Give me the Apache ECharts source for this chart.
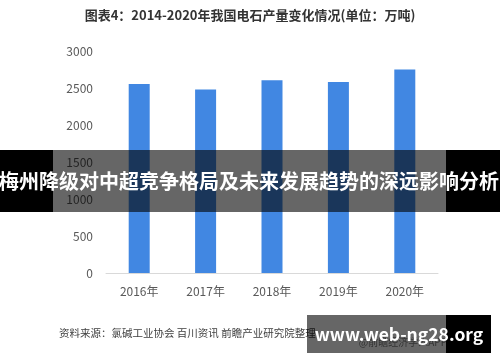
<!DOCTYPE html>
<html>
<head>
<meta charset="utf-8">
<script src="https://cdn.jsdelivr.net/npm/echarts@6/dist/echarts.min.js"></script>
<style>
html,body{margin:0;padding:0;background:#fff;}
#c{width:500px;height:362px;}
</style>
</head>
<body>
<div id="c"></div>
<script>
const categories = ['2016年', '2017年', '2018年', '2019年', '2020年'];
const production = [2555, 2480, 2605, 2580, 2750];
const yTicks = [0, 500, 1000, 1500, 2000, 2500, 3000];

const FONT = '"Noto Sans CJK SC", "Noto Sans", sans-serif';
const chart = echarts.init(document.getElementById('c'), null, {renderer: 'canvas'});
chart.setOption({
  animation: false,
  backgroundColor: '#ffffff',
  grid: {left: 106, right: 62, top: 51, bottom: 89, containLabel: false},
  xAxis: {
    type: 'category',
    data: categories,
    axisLine: {lineStyle: {color: '#d9d9d9', width: 1}},
    axisTick: {show: false},
    axisLabel: {color: '#595959', fontSize: 12, fontFamily: FONT, margin: 12}
  },
  yAxis: {
    type: 'value',
    min: yTicks[0],
    max: yTicks[yTicks.length - 1],
    interval: yTicks[1] - yTicks[0],
    axisLine: {show: false},
    axisTick: {show: false},
    splitLine: {show: false},
    axisLabel: {color: '#595959', fontSize: 12, fontFamily: FONT, margin: 13,
      formatter: function (v) { return String(v); }}
  },
  series: [{
    type: 'bar',
    data: production,
    barWidth: 21,
    itemStyle: {color: '#4187e2'},
    z: 2
  }],
  graphic: [
    {type: 'text', left: 'center', top: 9, z: 10,
      style: {text: '图表4：2014-2020年我国电石产量变化情况(单位：万吨)', fill: '#333333',
        font: 'bold 13px ' + FONT}},
    {type: 'text', left: 59, top: 328, z: 10,
      style: {text: '资料来源：氯碱工业协会 百川资讯 前瞻产业研究院整理', fill: '#404040',
        font: '10.5px ' + FONT}},
    {type: 'text', right: 53, top: 337, z: 10,
      style: {text: '@前瞻经济学人APP', fill: '#808080', font: '10px ' + FONT}},
    // Banner 1
    {type: 'rect', z: 100, shape: {x: 0, y: 150, width: 53, height: 62}, style: {fill: '#000000'}},
    {type: 'rect', z: 100, shape: {x: 53, y: 150, width: 393, height: 62}, style: {fill: 'rgba(0,0,0,0.6)'}},
    {type: 'rect', z: 100, shape: {x: 446, y: 150, width: 54, height: 62}, style: {fill: '#000000'}},
    {type: 'text', z: 101, x: 249, y: 181,
      style: {text: '梅州降级对中超竞争格局及未来发展趋势的深远影响分析', fill: '#ffffff',
        font: 'bold 20px ' + FONT, textAlign: 'center', textVerticalAlign: 'middle'}},
    // Banner 2
    {type: 'rect', z: 100, shape: {x: 307, y: 315, width: 139, height: 38}, style: {fill: 'rgba(0,0,0,0.6)'}},
    {type: 'rect', z: 100, shape: {x: 446, y: 315, width: 45, height: 38}, style: {fill: '#000000'}},
    {type: 'text', z: 101, x: 399, y: 334,
      style: {text: 'www.web-ng28.org', fill: '#ffffff',
        font: 'bold 17.5px ' + FONT, textAlign: 'center', textVerticalAlign: 'middle'}}
  ]
});
</script>
</body>
</html>
